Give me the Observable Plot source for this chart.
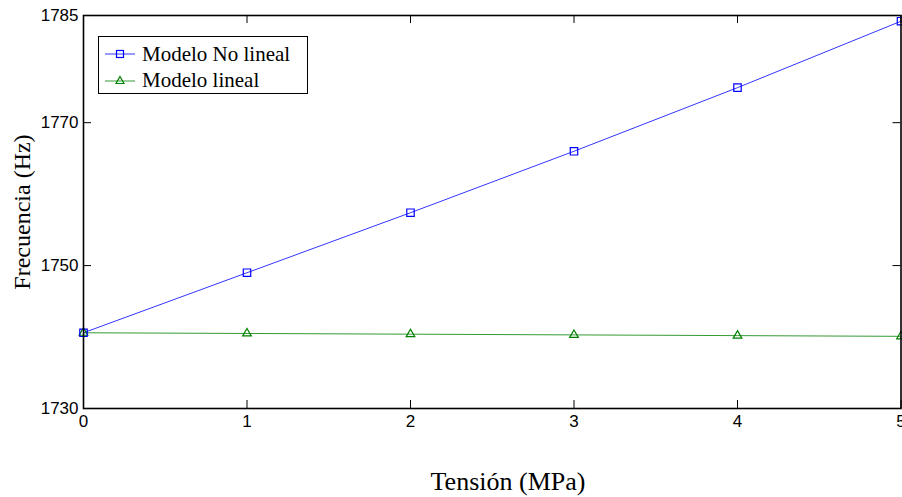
<!DOCTYPE html>
<html><head><meta charset="utf-8">
<script src="https://cdn.jsdelivr.net/npm/d3@7"></script>
<script src="https://cdn.jsdelivr.net/npm/@observablehq/plot@0.6"></script>
<style>
body{margin:0;background:#fff}
#wrap{position:relative;width:902px;height:497px;overflow:hidden;background:#fff}
#wrap > svg{position:absolute;left:0;top:0}
.lbl{position:absolute;font-family:"Liberation Serif","Times New Roman",serif;color:#000;white-space:nowrap}
#legend{position:absolute;left:98px;top:36px;width:208px;height:56px;border:1.5px solid #000;background:#fff;font-family:"Liberation Serif","Times New Roman",serif;font-size:21px}
.row{position:absolute;left:6px;height:24px;display:flex;align-items:center}
.row svg{display:block}
.row span{margin-left:7px;line-height:24px}
</style>
</head><body><div id="wrap"></div>
<script>
const tension = [0, 1, 2, 3, 4, 5];
const noLineal = [1740.6, 1749.0, 1757.4, 1766.0, 1774.9, 1784.2];
const lineal = [1740.6, 1740.5, 1740.4, 1740.3, 1740.2, 1740.1];
const yTicks = [1730, 1750, 1770, 1785];
const xTicks = [0, 1, 2, 3, 4, 5];
const seriesNames = ["Modelo No lineal", "Modelo lineal"];
const xLabel = "Tensión (MPa)";
const yLabel = "Frecuencia (Hz)";

const blue = "#0000ff", green = "#008000";
const W = 902, H = 497, mL = 83, mR = 1.5, mT = 15, mB = 89;
const pw = W - mL - mR, ph = H - mT - mB, tl = 8;

const dNL = tension.map((t, i) => ({x: t, y: noLineal[i]}));
const dL = tension.map((t, i) => ({x: t, y: lineal[i]}));

const plot = Plot.plot({
  width: W, height: H,
  marginLeft: mL, marginRight: mR, marginTop: mT, marginBottom: mB,
  x: {domain: [0, 5]},
  y: {domain: [1730, 1785]},
  style: {fontFamily: "'Liberation Sans', Arial, sans-serif", background: "transparent"},
  marks: [
    Plot.tickY(yTicks, {y: d => d, stroke: "#000", strokeWidth: 1, insetRight: pw - tl}),
    Plot.tickY(yTicks, {y: d => d, stroke: "#000", strokeWidth: 1, insetLeft: pw - tl}),
    Plot.tickX(xTicks, {x: d => d, stroke: "#000", strokeWidth: 1, insetTop: ph - tl}),
    Plot.tickX(xTicks, {x: d => d, stroke: "#000", strokeWidth: 1, insetBottom: ph - tl}),
    Plot.line(dL, {x: "x", y: "y", stroke: green, strokeWidth: 0.8}),
    Plot.line(dNL, {x: "x", y: "y", stroke: blue, strokeWidth: 0.8}),
    Plot.dot(dL, {x: "x", y: "y", symbol: "triangle", r: 3.2, stroke: green, strokeWidth: 1.2, fill: "none"}),
    Plot.dot(dNL, {x: "x", y: "y", symbol: "square", r: 4.2, stroke: blue, strokeWidth: 1.2, fill: "none"}),
    Plot.frame({stroke: "#000", strokeWidth: 1.6}),
    Plot.axisY(yTicks, {anchor: "left", tickSize: 0, tickPadding: 5, fontSize: 17, tickFormat: d => String(d), label: null, fill: "#000"}),
    Plot.axisX(xTicks, {anchor: "bottom", tickSize: 0, tickPadding: 6, fontSize: 17, tickFormat: d => String(d), label: null, fill: "#000"})
  ]
});

const wrap = document.getElementById("wrap");
wrap.appendChild(plot);

const xl = document.createElement("div");
xl.className = "lbl";
xl.textContent = xLabel;
xl.style.fontSize = "26px";
xl.style.left = "508px";
xl.style.top = "482px";
xl.style.transform = "translate(-50%,-50%)";
wrap.appendChild(xl);

const yl = document.createElement("div");
yl.className = "lbl";
yl.textContent = yLabel;
yl.style.fontSize = "24px";
yl.style.left = "22px";
yl.style.top = "212px";
yl.style.transform = "translate(-50%,-50%) rotate(-90deg)";
wrap.appendChild(yl);

const legend = document.createElement("div");
legend.id = "legend";
const sym = [
  `<svg width="30" height="12"><line x1="0" y1="6" x2="30" y2="6" stroke="${blue}" stroke-width="0.8"/><rect x="11.5" y="2.5" width="7" height="7" fill="none" stroke="${blue}" stroke-width="1.2"/></svg>`,
  `<svg width="30" height="12"><line x1="0" y1="7" x2="30" y2="7" stroke="${green}" stroke-width="0.8"/><path d="M15,2.5 L19,9.5 L11,9.5 Z" fill="none" stroke="${green}" stroke-width="1.2"/></svg>`
];
seriesNames.forEach((n, i) => {
  const r = document.createElement("div");
  r.className = "row";
  r.style.top = (5 + i * 26) + "px";
  r.innerHTML = sym[i] + `<span>${n}</span>`;
  legend.appendChild(r);
});
wrap.appendChild(legend);
</script>
</body></html>
